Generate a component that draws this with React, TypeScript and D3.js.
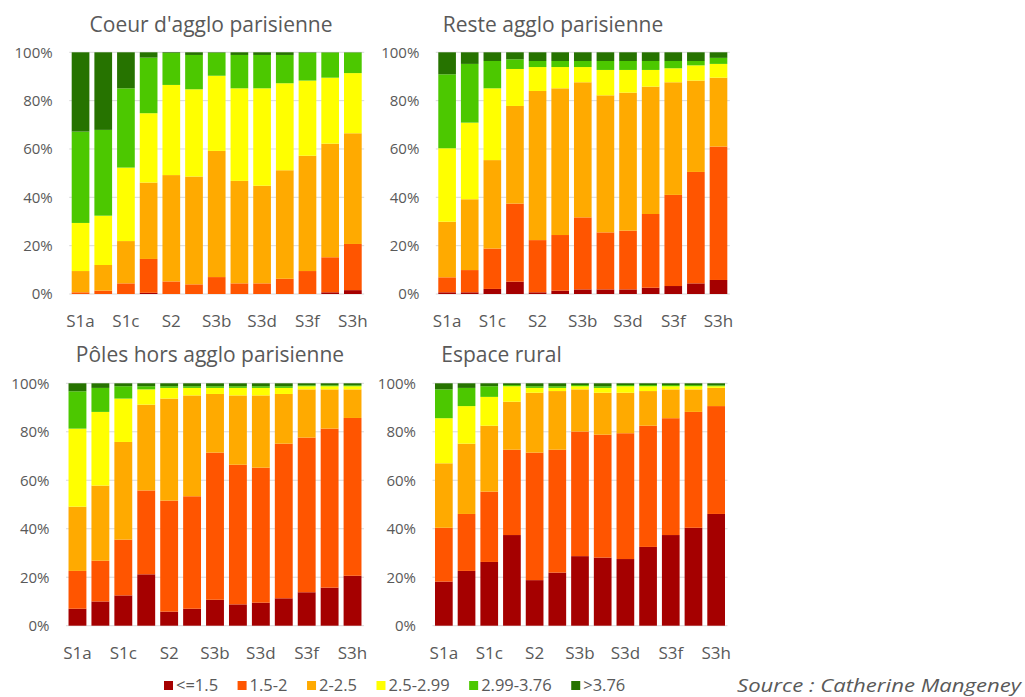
import React from "react";
import * as d3 from "d3";

const categories = ["S1a", "S1b", "S1c", "S1d", "S2", "S3a", "S3b", "S3c", "S3d", "S3e", "S3f", "S3g", "S3h"];
const classes = ["<=1.5", "1.5-2", "2-2.5", "2.5-2.99", "2.99-3.76", ">3.76"];
const classColors = ["#A50000", "#FF5500", "#FFAA00", "#FFFF00", "#4CC800", "#267300"];
const yTicks = [0, 0.2, 0.4, 0.6, 0.8, 1];

// values per category, in the order of `classes` (percent)
const coeurAgglo = [
  [0, 0.7, 8.8, 19.9, 37.8, 32.8],
  [0, 1.4, 10.6, 20.4, 35.5, 32.1],
  [0, 4.4, 17.5, 30.4, 32.8, 14.9],
  [0.5, 14.0, 31.6, 28.7, 23.0, 2.2],
  [0, 5.2, 44.0, 37.3, 13.2, 0.3],
  [0, 4.0, 44.6, 36.1, 14.2, 1.1],
  [0, 7.0, 52.2, 31.1, 9.5, 0.2],
  [0, 4.4, 42.4, 38.3, 13.8, 1.1],
  [0, 4.4, 40.4, 40.3, 13.8, 1.1],
  [0, 6.3, 44.9, 36.0, 11.7, 1.1],
  [0, 9.5, 47.7, 31.1, 11.5, 0.2],
  [0.7, 14.5, 47.0, 27.3, 10.4, 0.1],
  [1.6, 19.1, 45.8, 24.9, 8.5, 0.1],
];

const resteAgglo = [
  [0.7, 6.2, 23.0, 30.4, 30.6, 9.1],
  [0.7, 9.2, 29.3, 31.7, 24.3, 4.8],
  [2.1, 16.7, 36.6, 29.7, 11.3, 3.6],
  [5.1, 32.3, 40.4, 15.3, 4.0, 2.9],
  [0.7, 21.6, 61.7, 9.9, 2.5, 3.6],
  [1.4, 23.0, 60.7, 8.8, 2.5, 3.6],
  [1.9, 29.8, 55.9, 6.3, 2.5, 3.6],
  [1.9, 23.6, 56.7, 10.5, 3.7, 3.6],
  [1.9, 24.3, 57.1, 9.4, 3.7, 3.6],
  [2.6, 30.5, 52.7, 6.9, 3.7, 3.6],
  [3.3, 37.7, 46.6, 5.8, 3.0, 3.6],
  [4.4, 46.1, 37.8, 6.3, 1.8, 3.6],
  [5.8, 55.2, 28.5, 5.7, 2.5, 2.3],
];

const polesHorsAgglo = [
  [7.0, 15.6, 26.5, 32.2, 15.4, 3.3],
  [10.0, 16.8, 31.0, 30.4, 9.9, 1.9],
  [12.5, 23.0, 40.3, 17.9, 5.1, 1.2],
  [21.2, 34.6, 35.4, 6.3, 1.3, 1.2],
  [5.8, 45.8, 42.1, 4.4, 0.7, 1.2],
  [7.0, 46.4, 41.6, 3.1, 0.7, 1.2],
  [10.7, 60.7, 24.2, 2.5, 0.7, 1.2],
  [8.8, 57.6, 28.6, 3.1, 0.7, 1.2],
  [9.5, 55.7, 29.8, 3.1, 0.7, 1.2],
  [11.3, 63.8, 20.5, 2.5, 0.7, 1.2],
  [13.8, 63.8, 19.9, 1.3, 0.4, 0.8],
  [15.7, 65.6, 16.2, 1.3, 0.4, 0.8],
  [20.6, 65.1, 11.8, 1.3, 0.4, 0.8],
];

const espaceRural = [
  [18.2, 22.2, 26.6, 18.6, 11.9, 2.5],
  [22.6, 23.5, 29.0, 15.5, 7.5, 1.9],
  [26.3, 29.0, 27.2, 11.9, 4.4, 1.2],
  [37.4, 35.2, 19.8, 6.4, 0.5, 0.7],
  [18.8, 52.6, 24.7, 2.0, 0.7, 1.2],
  [21.9, 50.7, 24.2, 1.3, 0.7, 1.2],
  [28.7, 51.4, 17.4, 1.3, 0.5, 0.7],
  [28.1, 50.7, 17.3, 2.0, 0.7, 1.2],
  [27.5, 51.9, 16.7, 2.7, 0.5, 0.7],
  [32.5, 50.0, 14.3, 2.0, 0.5, 0.7],
  [37.4, 48.2, 11.9, 1.3, 0.5, 0.7],
  [40.4, 47.8, 9.3, 1.3, 0.5, 0.7],
  [46.1, 44.5, 7.5, 0.7, 0.4, 0.8],
];

const panelTitles = ["Coeur d'agglo parisienne", "Reste agglo parisienne", "Pôles hors agglo parisienne", "Espace rural"];
const panelData = [coeurAgglo, resteAgglo, polesHorsAgglo, espaceRural];
const sourceText = "Source : Catherine Mangeney";

const panelLayout = [
  { x0: 69.2, x1: 364.2, yTop: 52.3, yBot: 294, titleX: 211, titleY: 31.7 },
  { x0: 435.8, x1: 729.8, yTop: 52.3, yBot: 294, titleX: 553, titleY: 31.7 },
  { x0: 66, x1: 364, yTop: 383.3, yBot: 625.7, titleX: 210, titleY: 361.7 },
  { x0: 432.5, x1: 727.5, yTop: 383.3, yBot: 625.7, titleX: 501.5, titleY: 361.7 },
];

const FONT = "'Open Sans', sans-serif";
const TEXT = "#595959";

function Panel({ idx }: { idx: number }) {
  const L = panelLayout[idx];
  const rows = panelData[idx].map((vals, i) => {
    const o: any = { cat: categories[i] };
    classes.forEach((c, j) => (o[c] = vals[j]));
    return o;
  });
  const stack = d3.stack<any>().keys(classes).offset(d3.stackOffsetExpand);
  const series = stack(rows);
  const x = d3.scaleBand<string>().domain(categories).range([L.x0, L.x1]).paddingInner(0.22).paddingOuter(0.11);
  const y = d3.scaleLinear().domain([0, 1]).range([L.yBot, L.yTop]);
  const fmt = d3.format(".0%");
  return (
    <g>
      <text x={L.titleX} y={L.titleY} textAnchor="middle" fontFamily={FONT} fontSize={21} fill={TEXT}>
        {panelTitles[idx]}
      </text>
      {yTicks.map((t) => (
        <g key={t}>
          <line x1={L.x0} x2={L.x1} y1={y(t)} y2={y(t)} stroke="#D9D9D9" strokeWidth={1} />
          <text x={L.x0 - 16.5} y={y(t)} dy="0.36em" textAnchor="end" fontFamily={FONT} fontSize={15} fill={TEXT}>
            {fmt(t)}
          </text>
        </g>
      ))}
      {series.map((s, si) => (
        <g key={s.key} fill={classColors[si]}>
          {s.map((d: any, i: number) => (
            <rect
              key={i}
              x={x(categories[i])}
              width={x.bandwidth()}
              y={y(d[1])}
              height={Math.max(0, y(d[0]) - y(d[1]))}
            />
          ))}
        </g>
      ))}
      {categories.map((c, i) =>
        i % 2 === 0 ? (
          <text
            key={c}
            x={(x(c) as number) + x.bandwidth() / 2}
            y={L.yBot + 33}
            textAnchor="middle"
            fontFamily={FONT}
            fontSize={17}
            fill={TEXT}
          >
            {c}
          </text>
        ) : null
      )}
    </g>
  );
}

function Legend() {
  const ref = React.useRef<SVGGElement>(null);
  React.useEffect(() => {
    const g = d3.select(ref.current);
    g.selectAll("*").remove();
    let cx = 164;
    classes.forEach((c, i) => {
      g.append("rect").attr("x", cx).attr("y", 681).attr("width", 9).attr("height", 9).attr("fill", classColors[i]);
      const t = g
        .append("text")
        .attr("x", cx + 12)
        .attr("y", 691)
        .attr("font-family", FONT)
        .attr("font-size", 16.5)
        .attr("fill", TEXT)
        .text(c);
      const w = (t.node() as SVGTextElement).getComputedTextLength();
      cx = cx + 12 + w + 19.5;
    });
  }, []);
  return <g ref={ref} />;
}

export default function App() {
  return (
    <svg
      width={1025}
      height={697}
      style={{ position: "absolute", left: 0, top: 0, background: "#fff" }}
    >
      <rect x={0} y={0} width={1025} height={697} fill="#fff" />
      {panelLayout.map((_, i) => (
        <Panel key={i} idx={i} />
      ))}
      <Legend />
      <text
        x={737}
        y={692}
        fontFamily={FONT}
        fontStyle="italic"
        fontSize={19}
        fill={TEXT}
        textLength={284}
        lengthAdjust="spacingAndGlyphs"
      >
        {sourceText}
      </text>
    </svg>
  );
}
